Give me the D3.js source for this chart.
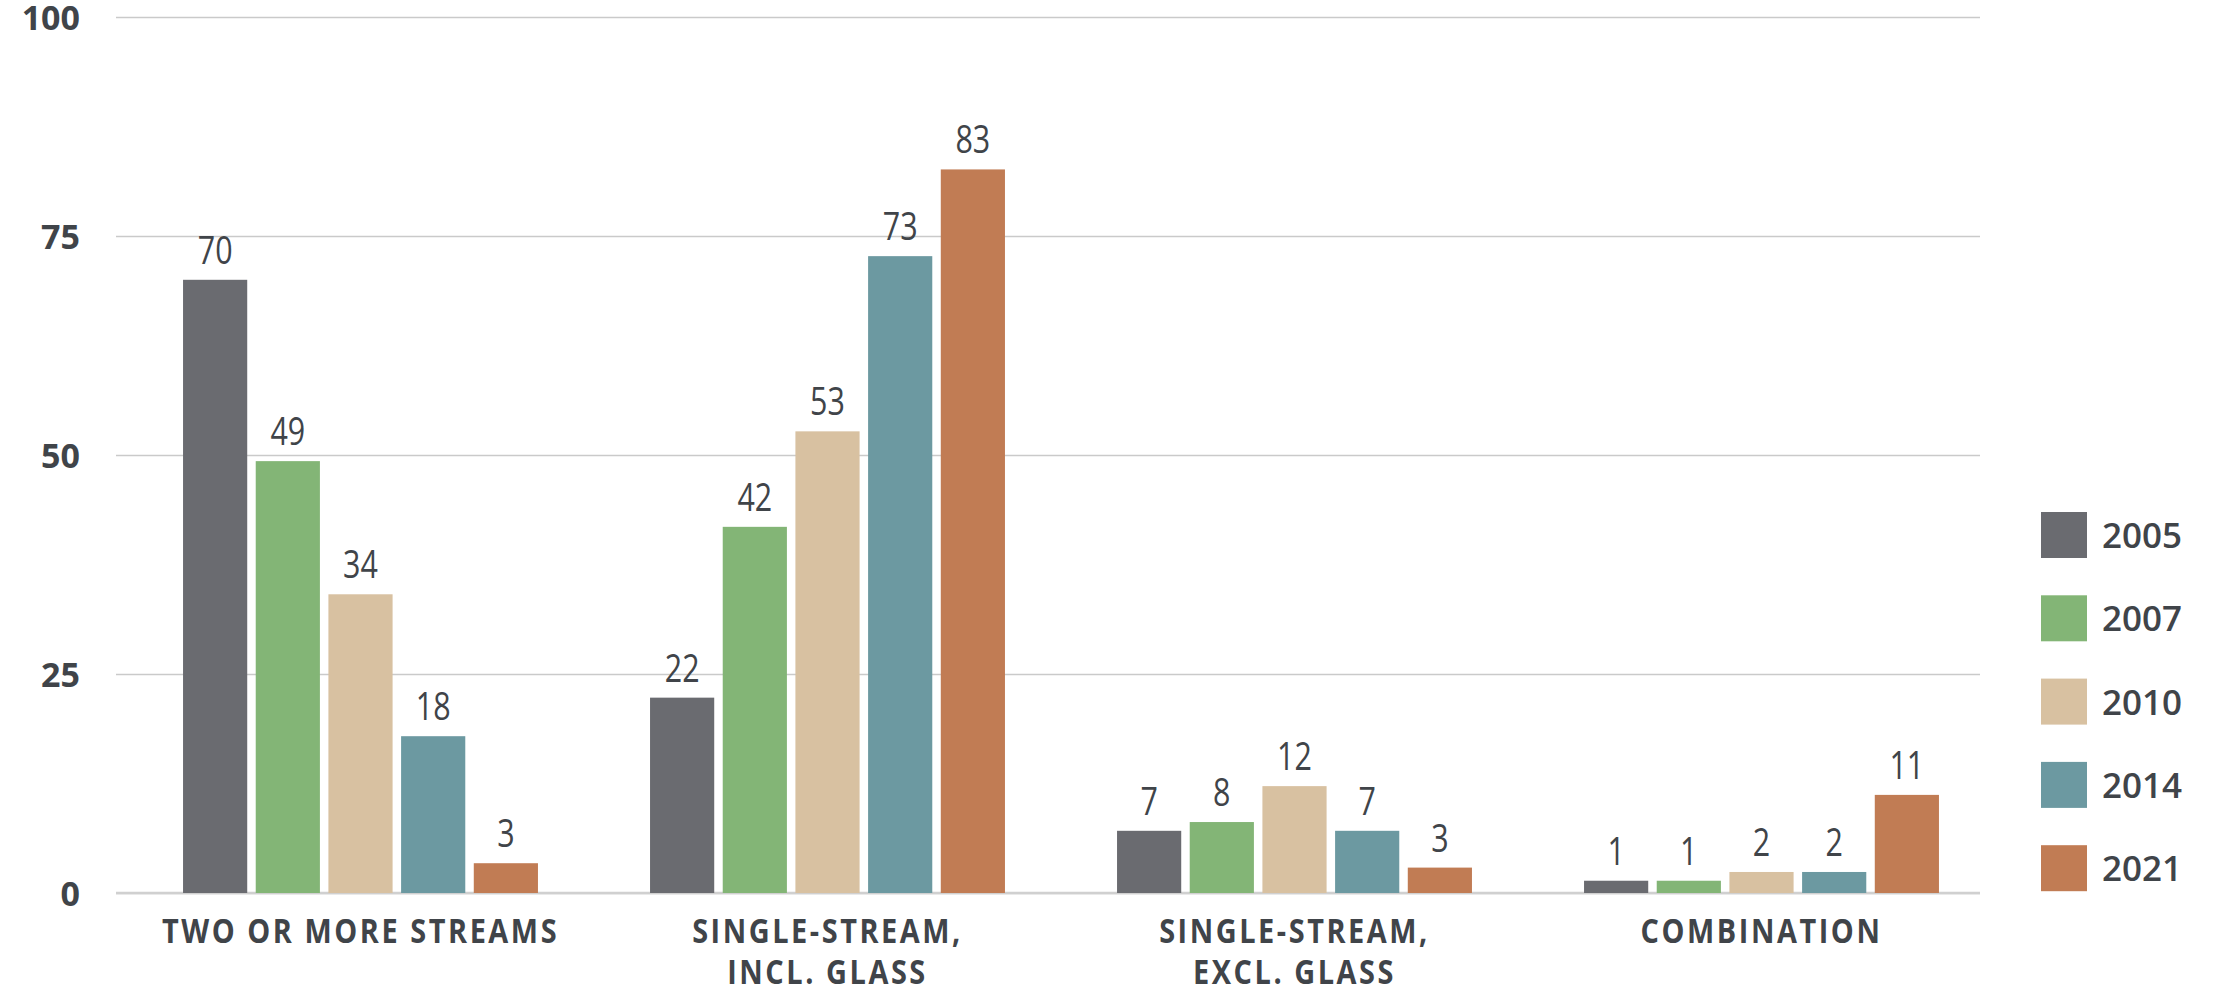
<!DOCTYPE html>
<html>
<head>
<meta charset="utf-8">
<script src="https://cdn.jsdelivr.net/npm/d3@7"></script>
<style>
  body { margin: 0; background: #fff; }
  svg { display: block; }
</style>
</head>
<body>
<div id="plot"></div>
<script>
let width = 2220;
let height = 990;

// data
let categories = ["TWO OR MORE STREAMS", "SINGLE-STREAM,\nINCL. GLASS", "SINGLE-STREAM,\nEXCL. GLASS", "COMBINATION"];
let years = ["2005", "2007", "2010", "2014", "2021"];
let colors = ["#6a6b70", "#83b576", "#d8c1a1", "#6c99a1", "#c17c54"];
let values2005 = [70, 22.3, 7.1, 1.4];
let values2007 = [49.3, 41.8, 8.1, 1.4];
let values2010 = [34.1, 52.7, 12.2, 2.4];
let values2014 = [17.9, 72.7, 7.1, 2.4];
let values2021 = [3.4, 82.6, 2.9, 11.2];
let yTicks = [0, 25, 50, 75, 100];

let series = [values2005, values2007, values2010, values2014, values2021];
let textColor = "#404449";

let svg = d3.select("#plot")
    .append("svg")
    .attr("width", width)
    .attr("height", height);

let gridLeft = 116;
let gridRight = 1980;

let yScale = d3.scaleLinear()
    .domain([0, 100])
    .range([893, 17]);

let xScale = d3.scaleBand()
    .domain(categories)
    .range([127, 1995])
    .paddingInner(0.24)
    .paddingOuter(0.12);

let yearScale = d3.scaleBand()
    .domain(years)
    .range([0, xScale.bandwidth()])
    .paddingInner(0.117);

// y axis + gridlines
let yAxis = d3.axisLeft(yScale)
    .tickValues(yTicks)
    .tickSize(-(gridRight - gridLeft))
    .tickPadding(36);

let yG = svg.append("g")
    .attr("transform", "translate(" + gridLeft + ",0)")
    .call(yAxis);
yG.select(".domain").remove();
yG.selectAll(".tick line")
    .attr("stroke", "#cacaca")
    .attr("stroke-width", 1.5);
yG.selectAll(".tick text")
    .attr("dy", "0.37em")
    .style("font-family", "'Open Sans', sans-serif")
    .style("font-weight", 700)
    .style("font-size", "34px")
    .attr("fill", textColor);

// baseline
svg.append("line")
    .attr("x1", gridLeft)
    .attr("x2", gridRight)
    .attr("y1", yScale(0))
    .attr("y2", yScale(0))
    .attr("stroke", "#d0d0d0")
    .attr("stroke-width", 2.5);

// bars
series.forEach(function (vals, si) {
    vals.forEach(function (v, ci) {
        let x = xScale(categories[ci]) + yearScale(years[si]);
        svg.append("rect")
            .attr("x", x)
            .attr("y", yScale(v))
            .attr("width", yearScale.bandwidth())
            .attr("height", yScale(0) - yScale(v))
            .style("fill", colors[si]);

        // condensed look of the original labels
        svg.append("text")
            .attr("transform", "translate(" + (x + yearScale.bandwidth() / 2) + "," + (yScale(v) - 16) + ") scale(0.8,1)")
            .style("text-anchor", "middle")
            .style("font-family", "'Open Sans', sans-serif")
            .style("font-size", "38px")
            .attr("fill", textColor)
            .text(d3.format(".0f")(v));
    });
});

// category labels
let xAxis = d3.axisBottom(xScale).tickSize(0).tickFormat("");
let xG = svg.append("g")
    .attr("transform", "translate(0," + yScale(0) + ")")
    .call(xAxis);
xG.select(".domain").remove();
xG.selectAll(".tick").each(function (d) {
    let lines = d.split("\n");
    let t = d3.select(this).append("text")
        .attr("transform", "scale(0.85,1)")
        .style("text-anchor", "middle")
        .style("font-family", "'Open Sans', sans-serif")
        .style("font-weight", 700)
        .style("font-size", "34px")
        .style("letter-spacing", "3px")
        .attr("fill", textColor);
    lines.forEach(function (line, i) {
        t.append("tspan")
            .attr("x", 0)
            .attr("y", 50 + i * 41)
            .text(line);
    });
});

// legend
let legend = svg.append("g");
years.forEach(function (yr, i) {
    let cy = 535 + i * 83.3;
    legend.append("rect")
        .attr("x", 2041)
        .attr("y", cy - 23)
        .attr("width", 46)
        .attr("height", 46)
        .style("fill", colors[i]);
    legend.append("text")
        .attr("x", 2102)
        .attr("y", cy + 13)
        .style("font-family", "'Open Sans', sans-serif")
        .style("font-weight", 600)
        .style("font-size", "35px")
        .attr("fill", textColor)
        .text(yr);
});
</script>
</body>
</html>
